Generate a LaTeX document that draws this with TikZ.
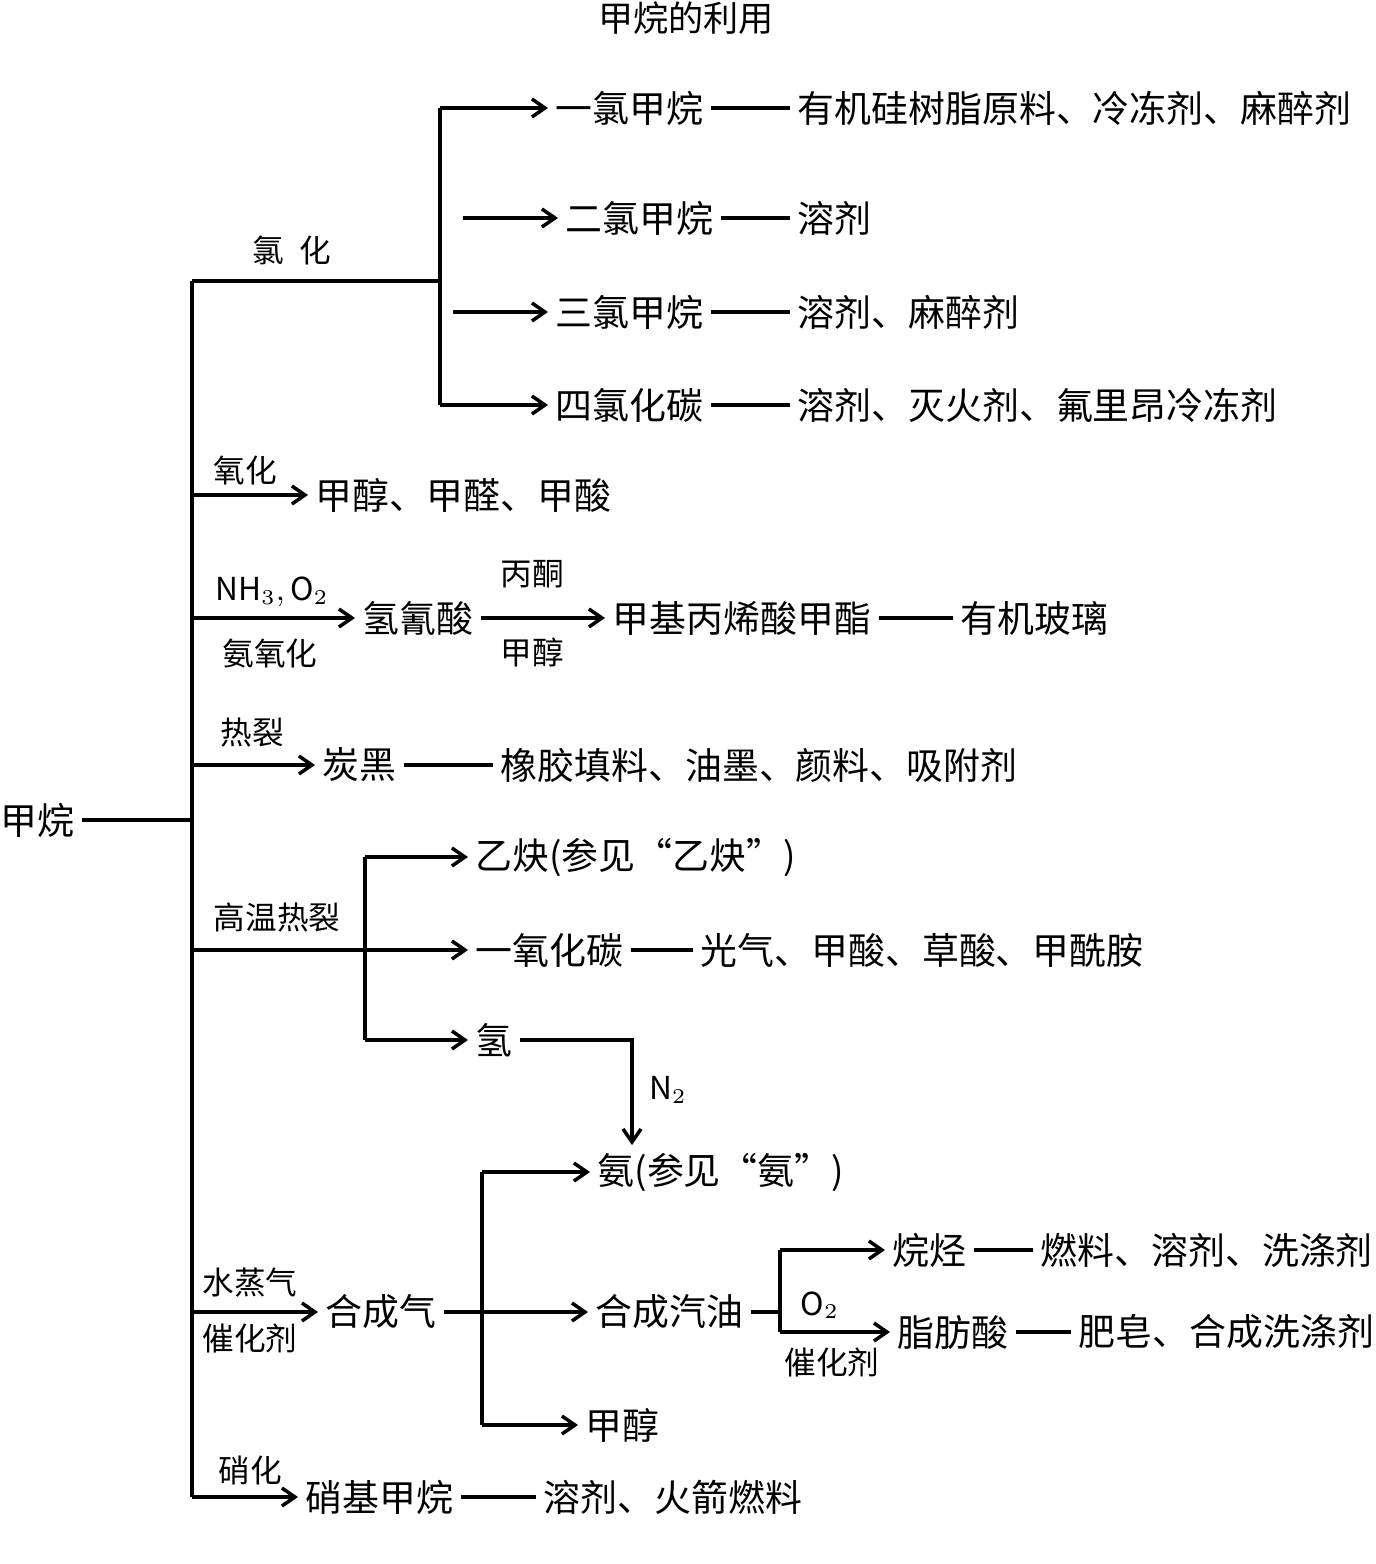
\documentclass[tikz,border=0pt]{standalone}
\usepackage{fontspec}
\setmainfont{Noto Sans CJK SC}
\usetikzlibrary{arrows.meta}
\tikzset{
  item/.style={anchor=west, inner sep=0.7mm},
  cond/.style={inner sep=0pt, font=\fontsize{9pt}{11pt}\selectfont},
  flow/.style={draw, line width=1pt, -{Straight Barb[length=1.3mm,width=1.8mm]}}
  }
\tikzstyle{link} = [draw, line width=1pt, -]

\begin{document}
\begin{tikzpicture}[x=0.1mm, y=-0.1mm, font=\fontsize{10.5pt}{12pt}\selectfont]
  \useasboundingbox (0,0) rectangle (1375,1564);

  \node[inner sep=0pt, font=\fontsize{10pt}{12pt}\selectfont] (title) at (686,18) {甲烷的利用};

  \node[item] (ch4) at (-7,820) {甲烷};
  \coordinate (trunk) at (192,820);
  \coordinate (top) at (192,281);
  \coordinate (bot) at (192,1497);
  \path[link] (ch4) -- (trunk);
  \path[link] (top) -- (bot);

  % chlorination
  \coordinate (cl) at (440,281);
  \coordinate (cl top) at (440,108);
  \coordinate (cl bot) at (440,405);
  \path[link] (top) -- (cl);
  \path[link] (cl top) -- (cl bot);
  \node[cond] (cl lbl) at (292,250) {氯\hspace{0.5em}化};
  \foreach \y/\x/\px/\name/\prod/\use in {108/440/548/a/一氯甲烷/有机硅树脂原料、冷冻剂、麻醉剂,
      218/463/558/b/二氯甲烷/溶剂, 312/453/548/c/三氯甲烷/溶剂、麻醉剂,
      405/440/548/d/四氯化碳/溶剂、灭火剂、氟里昂冷冻剂} {
    \coordinate (\name0) at (\x,\y);
    \node[item] (\name1) at (\px,\y) {\prod};
    \node[item] (\name2) at (790,\y) {\use};
    \path[flow] (\name0) -- (\name1);
    \path[link] (\name1) -- (\name2);
  }

  % oxidation
  \coordinate (ox0) at (192,495);
  \node[item] (ox1) at (308,495) {甲醇、甲醛、甲酸};
  \node[cond] (ox lbl) at (245,470) {氧化};
  \path[flow] (ox0) -- (ox1);

  % ammoxidation
  \coordinate (am0) at (192,618);
  \node[item] (hcn) at (355,618) {氢氰酸};
  \node[item] (mma) at (605,618) {甲基丙烯酸甲酯};
  \node[item] (glass) at (953,618) {有机玻璃};
  \node[cond] (am top) at (272,592) {$\mathrm{NH}_3, \mathrm{O}_2$};
  \node[cond] (am bot) at (270,653) {氨氧化};
  \node[cond] (acetone) at (532,574) {丙酮};
  \node[cond] (meoh a) at (532,652) {甲醇};
  \path[flow] (am0) -- (hcn);
  \path[flow] (hcn) -- (mma);
  \path[link] (mma) -- (glass);

  % pyrolysis
  \coordinate (py0) at (192,765);
  \node[item] (cb) at (315,765) {炭黑};
  \node[item] (cb use) at (493,765) {橡胶填料、油墨、颜料、吸附剂};
  \node[cond] (py lbl) at (252,733) {热裂};
  \path[flow] (py0) -- (cb);
  \path[link] (cb) -- (cb use);

  % high temperature pyrolysis
  \coordinate (ht0) at (192,950);
  \coordinate (ht1) at (365,950);
  \coordinate (ht top) at (365,857);
  \coordinate (ht bot) at (365,1040);
  \node[cond] (ht lbl) at (277,917) {高温热裂};
  \path[link] (ht0) -- (ht1);
  \path[link] (ht top) -- (ht bot);
  \node[item] (c2h2) at (468,857) {乙炔(参见“乙炔”)};
  \node[item] (co) at (468,950) {一氧化碳};
  \node[item] (co use) at (693,950) {光气、甲酸、草酸、甲酰胺};
  \node[item] (h2) at (468,1040) {氢};
  \path[flow] (ht top) -- (c2h2);
  \path[flow] (ht1) -- (co);
  \path[link] (co) -- (co use);
  \path[flow] (ht bot) -- (h2);

  \node[item] (nh3) at (590,1172) {氨(参见“氨”)};
  \coordinate (h2r) at (632,1040);
  \node[cond] (n2) at (668,1090) {$\mathrm{N}_2$};
  \path[flow] (h2) -- (h2r) -- (h2r |- nh3.north);

  % syngas
  \coordinate (sg0) at (192,1312);
  \node[item] (sg) at (318,1312) {合成气};
  \node[cond] (sg top lbl) at (250,1283) {水蒸气};
  \node[cond] (sg bot lbl) at (250,1338) {催化剂};
  \path[flow] (sg0) -- (sg);
  \coordinate (sg1) at (482,1312);
  \coordinate (sg top) at (482,1172);
  \coordinate (sg bot) at (482,1425);
  \path[link] (sg) -- (sg1);
  \path[link] (sg top) -- (sg bot);
  \node[item] (gas) at (588,1312) {合成汽油};
  \node[item] (meoh) at (578,1425) {甲醇};
  \path[flow] (sg top) -- (nh3);
  \path[flow] (sg1) -- (gas);
  \path[flow] (sg bot) -- (meoh);

  \coordinate (gs1) at (780,1312);
  \coordinate (gs top) at (780,1250);
  \coordinate (gs bot) at (780,1332);
  \path[link] (gas) -- (gs1);
  \path[link] (gs top) -- (gs bot);
  \node[item] (alk) at (885,1250) {烷烃};
  \node[item] (alk use) at (1033,1250) {燃料、溶剂、洗涤剂};
  \node[item] (fa) at (890,1332) {脂肪酸};
  \node[item] (fa use) at (1071,1332) {肥皂、合成洗涤剂};
  \node[cond] (o2) at (820,1305) {$\mathrm{O}_2$};
  \node[cond] (cat) at (832,1362) {催化剂};
  \path[flow] (gs top) -- (alk);
  \path[link] (alk) -- (alk use);
  \path[flow] (gs bot) -- (fa);
  \path[link] (fa) -- (fa use);

  % nitration
  \coordinate (ni0) at (192,1497);
  \node[item] (nm) at (298,1497) {硝基甲烷};
  \node[item] (nm use) at (536,1497) {溶剂、火箭燃料};
  \node[cond] (ni lbl) at (250,1470) {硝化};
  \path[flow] (ni0) -- (nm);
  \path[link] (nm) -- (nm use);
\end{tikzpicture}
\end{document}
